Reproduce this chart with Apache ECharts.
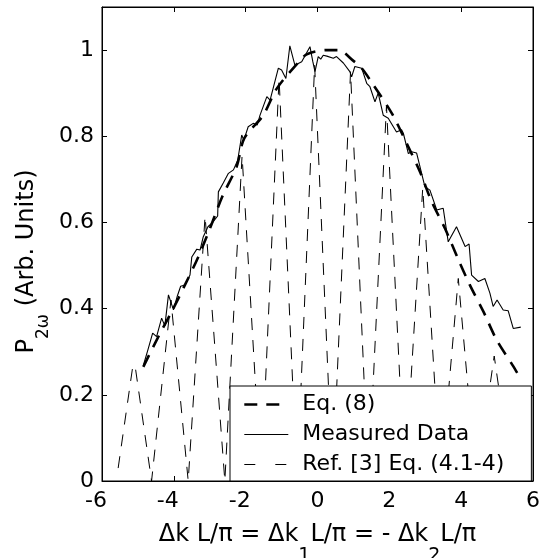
<!DOCTYPE html>
<html>
<head>
<meta charset="utf-8">
<script src="https://cdn.jsdelivr.net/npm/echarts@6/dist/echarts.min.js"></script>
<style>
html,body{margin:0;padding:0;background:#fff;}
#chart{width:545px;height:558px;}
</style>
</head>
<body>
<div id="chart"></div>
<script>
// Eq. (8) - thick dashed curve
var eqX = [-4.85, -4.43, -4.06, -3.69, -3.32, -2.99, -2.65, -2.25, -2.04, -1.51, -1.14, -0.6, -0.3, 0.26, 0.58, 1.0, 1.23, 1.55, 2.07, 2.48, 2.85, 3.18, 3.55, 3.89, 4.24, 4.62, 4.99, 5.43, 5.56];
var eqY = [0.265, 0.335, 0.393, 0.455, 0.52, 0.587, 0.66, 0.73, 0.795, 0.849, 0.91, 0.965, 0.99, 1.0, 1.0, 0.975, 0.958, 0.92, 0.853, 0.784, 0.718, 0.648, 0.586, 0.52, 0.455, 0.393, 0.327, 0.269, 0.251];

// measured data - thin solid line
var measX = [-4.85, -4.72, -4.59, -4.48, -4.34, -4.25, -4.15, -4.01, -3.90, -3.81, -3.69, -3.55, -3.50, -3.36, -3.27, -3.18, -3.05, -2.92, -2.78, -2.76, -2.62, -2.48, -2.34, -2.22, -2.11, -2.05, -1.93, -1.79, -1.68, -1.60, -1.41, -1.32, -1.09, -1.00, -0.88, -0.77, -0.63, -0.44, -0.21, -0.13, -0.07, 0.02, 0.09, 0.16, 0.26, 0.44, 0.53, 0.72, 0.90, 0.95, 1.04, 1.23, 1.37, 1.46, 1.60, 1.69, 1.83, 1.97, 2.20, 2.34, 2.39, 2.53, 2.62, 2.76, 2.99, 3.13, 3.32, 3.50, 3.64, 3.87, 4.11, 4.22, 4.29, 4.48, 4.66, 4.80, 4.89, 5.00, 5.17, 5.31, 5.45, 5.66];
var measY = [0.268, 0.305, 0.343, 0.335, 0.378, 0.360, 0.432, 0.397, 0.430, 0.452, 0.455, 0.478, 0.520, 0.538, 0.536, 0.567, 0.590, 0.600, 0.615, 0.671, 0.692, 0.714, 0.722, 0.745, 0.803, 0.791, 0.822, 0.830, 0.826, 0.849, 0.892, 0.884, 0.958, 0.954, 0.934, 1.010, 0.965, 0.973, 1.008, 0.973, 0.950, 0.985, 0.979, 0.988, 0.986, 0.981, 0.985, 0.970, 0.950, 0.938, 0.962, 0.958, 0.923, 0.915, 0.880, 0.900, 0.849, 0.842, 0.810, 0.815, 0.807, 0.760, 0.764, 0.761, 0.683, 0.675, 0.629, 0.633, 0.555, 0.590, 0.544, 0.550, 0.478, 0.463, 0.470, 0.436, 0.405, 0.420, 0.397, 0.395, 0.354, 0.357];

// Ref. [3] Eq. (4.1-4) - thin dashed oscillation (zeros and peaks)
var refX = [-5.55, -5.14, -5.08, -4.62, -4.08, -3.60, -3.13, -2.58, -2.10, -1.57, -1.07, -0.57, -0.08, 0.42, 0.92, 1.42, 1.92, 2.43, 2.93, 3.43, 3.92, 4.42, 4.92, 5.42];
var refY = [0.03, 0.268, 0.268, 0.0, 0.42, 0.0, 0.615, 0.0, 0.755, 0.0, 0.935, 0.0, 0.965, 0.0, 0.95, 0.0, 0.87, 0.0, 0.68, 0.0, 0.47, 0.0, 0.29, 0.0];

var xTicks = [-6, 6, 2];
var yTicks = [0, 1.1, 0.2];

function pairs(xs, ys) {
    var out = [];
    for (var i = 0; i < xs.length; i++) out.push([xs[i], ys[i]]);
    return out;
}

var font = '"DejaVu Sans", Verdana, sans-serif';
var myChart = echarts.init(document.getElementById('chart'));

var option = {
    animation: false,
    backgroundColor: '#fff',
    textStyle: {fontFamily: font, color: '#000'},
    grid: {left: 102, right: 12, top: 7, bottom: 77, show: true, borderColor: '#000', borderWidth: 1, outerBoundsMode: 'none', containLabel: false},
    legend: {
        left: 230,
        top: 386,
        orient: 'vertical',
        backgroundColor: '#fff',
        borderColor: '#000',
        borderWidth: 1,
        borderRadius: 0,
        padding: [5, 27, 3, 13],
        itemWidth: 44,
        itemHeight: 14,
        itemGap: 3,
        itemStyle: {color: 'rgba(0,0,0,0)', borderColor: 'rgba(0,0,0,0)', borderWidth: 0},
        textStyle: {fontFamily: font, fontSize: 22, color: '#000', padding: [0, 0, 0, 9], lineHeight: 27},
        data: [
            {name: 'Eq. (8)', lineStyle: {width: 2.6, type: [13, 9]}},
            {name: 'Measured Data', lineStyle: {width: 1.1}},
            {name: 'Ref. [3] Eq. (4.1-4)', lineStyle: {width: 1, type: [11, 20]}}
        ]
    },
    xAxis: [{
        type: 'value',
        min: xTicks[0], max: xTicks[1], interval: xTicks[2],
        axisLine: {onZero: false, lineStyle: {color: '#000', width: 1}},
        axisTick: {inside: true, length: 5, lineStyle: {color: '#000'}},
        splitLine: {show: false},
        axisLabel: {
            fontFamily: font, fontSize: 22, color: '#000', margin: 9,
            formatter: function (v) { return v < 0 ? '{n|' + v + '}' : String(v); },
            rich: {n: {fontFamily: font, fontSize: 22, color: '#000', padding: [0, 12, 0, 0]}}
        },
        name: '{a|\u0394k L/\u03c0 = \u0394k}{b|1}{a|L/\u03c0 = - \u0394k}{b|2}{a|L/\u03c0}',
        nameLocation: 'middle',
        nameMoveOverlap: false,
        nameGap: 42,
        nameTextStyle: {
            rich: {
                a: {fontFamily: font, fontSize: 24, color: '#000', lineHeight: 30, verticalAlign: 'top'},
                b: {fontFamily: font, fontSize: 19, color: '#000', lineHeight: 43, verticalAlign: 'bottom'}
            }
        }
    }, {
        type: 'value', position: 'top',
        min: xTicks[0], max: xTicks[1], interval: xTicks[2],
        axisLine: {onZero: false, lineStyle: {color: '#000'}},
        axisTick: {inside: true, length: 5, lineStyle: {color: '#000'}},
        axisLabel: {show: false},
        splitLine: {show: false}
    }],
    yAxis: [{
        type: 'value',
        min: yTicks[0], max: yTicks[1], interval: yTicks[2],
        axisLine: {show: true, onZero: false, lineStyle: {color: '#000', width: 1}},
        axisTick: {show: true, inside: true, length: 5, lineStyle: {color: '#000'}},
        splitLine: {show: false},
        axisLabel: {
            fontFamily: font, fontSize: 22, color: '#000', margin: 8,
            formatter: function (v) { return v > 1.05 ? '' : String(Math.round(v * 10) / 10); }
        },
        name: '{a|P}{b|2\u03c9}{a| (Arb. Units)}',
        nameLocation: 'middle',
        nameMoveOverlap: false,
        nameRotate: 90,
        nameGap: 50,
        nameTextStyle: {
            padding: [0, 35, 0, 0],
            rich: {
                a: {fontFamily: font, fontSize: 24, color: '#000', lineHeight: 30, verticalAlign: 'top'},
                b: {fontFamily: font, fontSize: 17, color: '#000', lineHeight: 37, verticalAlign: 'bottom'}
            }
        }
    }, {
        type: 'value', position: 'right',
        min: yTicks[0], max: yTicks[1], interval: yTicks[2],
        axisLine: {show: true, onZero: false, lineStyle: {color: '#000'}},
        axisTick: {show: true, inside: true, length: 5, lineStyle: {color: '#000'}},
        axisLabel: {show: false},
        splitLine: {show: false}
    }],
    series: [{
        name: 'Eq. (8)',
        type: 'line',
        data: pairs(eqX, eqY),
        smooth: 0.3,
        symbol: 'none',
        color: '#000',
        lineStyle: {color: '#000', width: 2.6, type: [13, 9]},
        z: 3
    }, {
        name: 'Measured Data',
        type: 'line',
        data: pairs(measX, measY),
        symbol: 'none',
        color: '#000',
        lineStyle: {color: '#000', width: 1.1, type: 'solid'},
        z: 4
    }, {
        name: 'Ref. [3] Eq. (4.1-4)',
        type: 'line',
        data: pairs(refX, refY),
        symbol: 'none',
        color: '#000',
        lineStyle: {color: '#000', width: 1, type: [12, 10]},
        z: 2
    }]
};

myChart.setOption(option);
</script>
</body>
</html>
